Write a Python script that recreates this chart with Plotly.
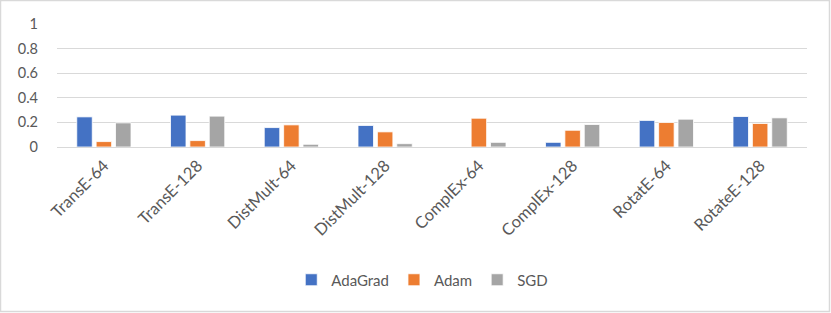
import plotly.graph_objects as go

categories = ["TransE-64", "TransE-128", "DistMult-64", "DistMult-128",
              "ComplEx-64", "ComplEx-128", "RotatE-64", "RotateE-128"]
adagrad = [0.245, 0.259, 0.158, 0.175, 0.0, 0.038, 0.216, 0.248]
adam = [0.044, 0.052, 0.180, 0.123, 0.234, 0.136, 0.199, 0.191]
sgd = [0.196, 0.251, 0.022, 0.027, 0.038, 0.183, 0.226, 0.237]
y_ticks = [0, 0.2, 0.4, 0.6, 0.8, 1]
y_tick_text = ["0", "0.2", "0.4", "0.6", "0.8", "1"]

W, H = 831, 313
L, R, T, B = 57, 24, 24, 166

fig = go.Figure()
for name, vals, col in [("AdaGrad", adagrad, "#4472C4"),
                        ("Adam", adam, "#ED7D31"),
                        ("SGD", sgd, "#A5A5A5")]:
    fig.add_trace(go.Bar(x=categories, y=vals, name=name,
                         marker=dict(color=col, line=dict(color="white", width=0.8))))

pw = W - L - R
ph = H - T - B
fig.add_shape(type="rect", xref="paper", yref="paper",
              x0=(0.5 - L) / pw, x1=(W - 1.5 - L) / pw,
              y0=-(H - 1.5 - T - ph) / ph, y1=(T - 0.5) / ph + 1,
              line=dict(color="#D9D9D9", width=1.5), layer="below")

fig.update_layout(
    width=W, height=H,
    margin=dict(l=L, r=R, t=T, b=B, autoexpand=False),
    paper_bgcolor="white", plot_bgcolor="white",
    font=dict(family="Lato", size=16, color="#595959"),
    barmode="group", bargap=0.38, bargroupgap=0.2,
    showlegend=True,
    legend=dict(orientation="h", x=0.487, xanchor="center", y=-(280 - (H - B)) / ph,
                yanchor="middle",
                font=dict(size=15, color="#595959"), itemwidth=30),
    xaxis=dict(tickangle=-45, showgrid=False, showline=False, ticks="",
               ticklabelstandoff=5, automargin=False,
               tickfont=dict(size=16.5, color="#595959")),
    yaxis=dict(range=[0, 1], tickvals=y_ticks, ticktext=y_tick_text,
               showgrid=True, gridcolor="#D9D9D9", gridwidth=1,
               zeroline=True, zerolinecolor="#D9D9D9", zerolinewidth=1,
               ticks="", ticklabelstandoff=18, automargin=False,
               tickfont=dict(size=14.5, color="#595959")),
)

fig.write_html("out.html", config={"displayModeBar": False},
               post_script="document.body.style.margin='0';")
